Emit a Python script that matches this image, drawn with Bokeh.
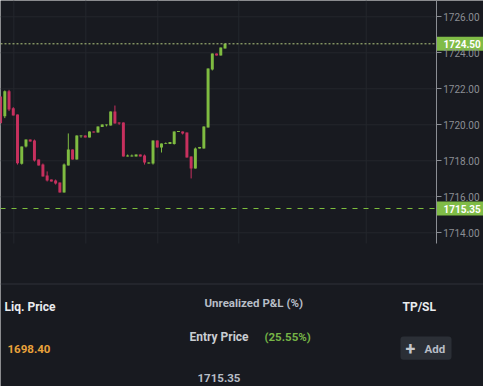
from bokeh.plotting import figure
from bokeh.models import Range1d, FixedTicker, LinearAxis, PrintfTickFormatter, ColumnDataSource
from bokeh.embed import file_html
from bokeh.resources import INLINE
from bokeh.core.properties import value

# ---------------- data ----------------
opens = [1721.57, 1720.48, 1721.87, 1720.92, 1720.57, 1717.83, 1718.79, 1719.18, 1719.13, 1718.07,
         1717.79, 1717.18, 1716.96, 1716.91, 1716.79, 1716.24, 1717.74, 1718.63, 1718.07, 1719.36,
         1719.41, 1719.30, 1719.63, 1719.57, 1719.88, 1719.97, 1719.96, 1720.74, 1720.13, 1720.13,
         1718.24, 1718.24, 1718.24, 1718.35, 1718.29, 1717.85, 1717.85, 1719.13, 1718.74, 1718.93,
         1718.93, 1718.93, 1719.60, 1719.63, 1719.57, 1718.24, 1717.57, 1718.68, 1718.68, 1719.85,
         1723.07, 1723.96, 1723.85, 1724.24]
closes = [1720.09, 1721.87, 1720.85, 1720.52, 1717.87, 1718.79, 1719.18, 1719.07, 1718.02, 1717.74,
          1717.13, 1716.91, 1716.85, 1716.74, 1716.24, 1717.79, 1718.63, 1718.07, 1719.41, 1719.41,
          1719.30, 1719.63, 1719.57, 1719.91, 1720.02, 1720.02, 1720.74, 1720.07, 1720.07, 1718.24,
          1718.30, 1718.30, 1718.35, 1718.24, 1717.91, 1717.91, 1719.13, 1718.74, 1718.96, 1718.98,
          1719.04, 1719.63, 1719.65, 1719.52, 1718.18, 1717.57, 1718.68, 1718.77, 1719.91, 1723.13,
          1723.96, 1723.85, 1724.29, 1724.50]
highs = [1721.57, 1721.91, 1721.94, 1720.98, 1720.57, 1718.79, 1719.18, 1719.18, 1719.18, 1718.07,
         1717.85, 1717.41, 1716.96, 1716.96, 1716.79, 1717.85, 1719.52, 1718.63, 1719.41, 1719.41,
         1719.41, 1719.63, 1719.63, 1719.91, 1720.02, 1720.02, 1720.74, 1721.07, 1720.13, 1720.13,
         1718.35, 1718.35, 1718.35, 1718.35, 1718.35, 1717.91, 1719.13, 1719.13, 1718.96, 1719.02,
         1719.04, 1719.63, 1719.65, 1719.63, 1719.57, 1718.24, 1718.74, 1718.77, 1719.91, 1723.13,
         1723.96, 1723.96, 1724.29, 1724.50]
lows = [1720.09, 1720.37, 1720.76, 1720.52, 1717.79, 1717.79, 1718.74, 1719.07, 1717.96, 1717.74,
        1717.13, 1716.85, 1716.85, 1716.68, 1716.24, 1716.24, 1717.74, 1718.07, 1718.07, 1719.28,
        1719.30, 1719.30, 1719.57, 1719.57, 1719.88, 1719.91, 1719.96, 1720.07, 1720.00, 1718.24,
        1718.24, 1718.24, 1718.24, 1718.24, 1717.79, 1717.85, 1717.79, 1718.74, 1718.46, 1718.93,
        1718.93, 1718.90, 1719.60, 1719.46, 1718.18, 1717.02, 1717.57, 1718.68, 1718.68, 1719.85,
        1723.02, 1723.85, 1723.85, 1724.24]

price_ticks = [1714.0, 1716.0, 1718.0, 1720.0, 1722.0, 1724.0, 1726.0]
time_grid = [3.13, 20.13, 37.13, 56.25, 86.34]

current_price = 1724.50
entry_price = 1715.35
liq_price = 1698.40
pnl_pct = 25.55

# ---------------- layout constants (pixels) ----------------
W, H = 483, 386
BAR_PX, BAR0_PX = 4.235, 0.065          # bar spacing / first bar centre
UNIT_PX, Y1720_PX = 18.0, 124.3         # px per price unit / pixel row of 1720
AXIS_PX, CHART_BOTTOM_PX = 435.7, 243.0

def bx(px):
    return (px - BAR0_PX) / BAR_PX

def py(px):
    return 1720.0 - (px - Y1720_PX) / UNIT_PX

X_LO, X_HI = bx(0), bx(W)
Y_LO, Y_HI = py(H), py(0)
AX_X = bx(AXIS_PX)
P_LO = py(CHART_BOTTOM_PX)

BG = "#181a20"
GRID = "#24272d"
UP = "#7fbc41"
DOWN = "#c7305e"
TAG = "#80bc47"
AXC = "#8b8e94"
FONT = "Roboto"

idx = list(range(len(opens)))
colors = [UP if c >= o else DOWN for o, c in zip(opens, closes)]
src = ColumnDataSource(dict(x=idx, open=opens, close=closes, high=highs, low=lows, color=colors))

p = figure(width=W, height=H, x_range=Range1d(X_LO, X_HI), y_range=Range1d(Y_LO, Y_HI),
           x_axis_type=None, y_axis_type=None, output_backend="svg", toolbar_location=None,
           background_fill_color=BG, border_fill_color=BG, outline_line_color=None, min_border=0)
p.extra_x_ranges = {"px": Range1d(0, W)}
p.extra_y_ranges = {"py": Range1d(H, 0)}

# grid lines (limited to the chart area)
n = len(price_ticks)
p.segment(x0=[X_LO] * n, y0=price_ticks, x1=[AX_X] * n, y1=price_ticks, line_color=GRID, line_width=1)
m = len(time_grid)
p.segment(x0=time_grid, y0=[P_LO] * m, x1=time_grid, y1=[Y_HI] * m, line_color=GRID, line_width=1)

# price axis
ax = LinearAxis(fixed_location=AX_X, bounds=(P_LO, Y_HI), ticker=FixedTicker(ticks=price_ticks),
                formatter=PrintfTickFormatter(format="%.2f"))
ax.axis_line_color = AXC
ax.major_tick_line_color = AXC
ax.major_tick_out = 5
ax.major_tick_in = 0
ax.minor_tick_line_color = None
ax.major_label_standoff = 2
ax.major_label_text_color = AXC
ax.major_label_text_font = FONT
ax.major_label_text_font_size = "10px"
p.add_layout(ax, "right")

# candles
p.segment(x0="x", y0="high", x1="x", y1="low", color="color", line_width=1, source=src)
p.vbar(x="x", width=0.7, top="open", bottom="close", fill_color="color", line_color=None, source=src)

# price lines
p.segment(x0=[X_LO], y0=[current_price], x1=[AX_X], y1=[current_price], line_color="#b3c97f",
          line_dash="2 2", line_width=1)
p.segment(x0=[X_LO], y0=[entry_price], x1=[AX_X], y1=[entry_price], line_color="#7cbd3c",
          line_dash="5 6", line_width=1)

# price tags
half = 7.0 / UNIT_PX
tags = [current_price, entry_price]
p.quad(left=[AX_X] * 2, right=[X_HI] * 2, top=[v + half for v in tags], bottom=[v - half for v in tags],
       fill_color=TAG, line_color=None)
p.text(x=[bx(443)] * 2, y=tags, text=["%.2f" % v for v in tags], text_color="white",
       text_font=value(FONT), text_font_style="bold", text_font_size="10px",
       text_align="left", text_baseline="middle")

# ---------------- bottom panel ----------------
p.segment(x0=[0], y0=[283.5], x1=[W], y1=[283.5], line_color="#2e3138", line_width=1,
          x_range_name="px", y_range_name="py")

def txt(x, y, s, color, size, style="bold"):
    p.text(x=[x], y=[y], text=[s], text_color=color, text_font=value(FONT), text_font_style=style,
           text_font_size=size, text_align="left", text_baseline="middle",
           x_range_name="px", y_range_name="py")

txt(4, 306, "Liq. Price", "#eaecef", "12px")
txt(204, 302.5, "Unrealized P&L (%)", "#b7bdc6", "11.5px")
txt(402, 306, "TP/SL", "#eaecef", "12px")
txt(189, 336, "Entry Price", "#c9cdd2", "12px")
txt(264, 336, "(%.2f%%)" % pnl_pct, "#75b446", "11.5px")
txt(7, 348, "%.2f" % liq_price, "#eaa33b", "11.5px")
txt(197, 377.5, "%.2f" % entry_price, "#b7bdc6", "11.5px")

p.quad(left=[400], right=[451], top=[336], bottom=[359.3], fill_color="#2b2f36", line_color=None,
       border_radius=3, x_range_name="px", y_range_name="py")
txt(405, 347.5, "+", "#c4c7cc", "18px")
txt(424, 348.5, "Add", "#b7bdc6", "11.5px")

open("out.html", "w").write(file_html(p, INLINE))
